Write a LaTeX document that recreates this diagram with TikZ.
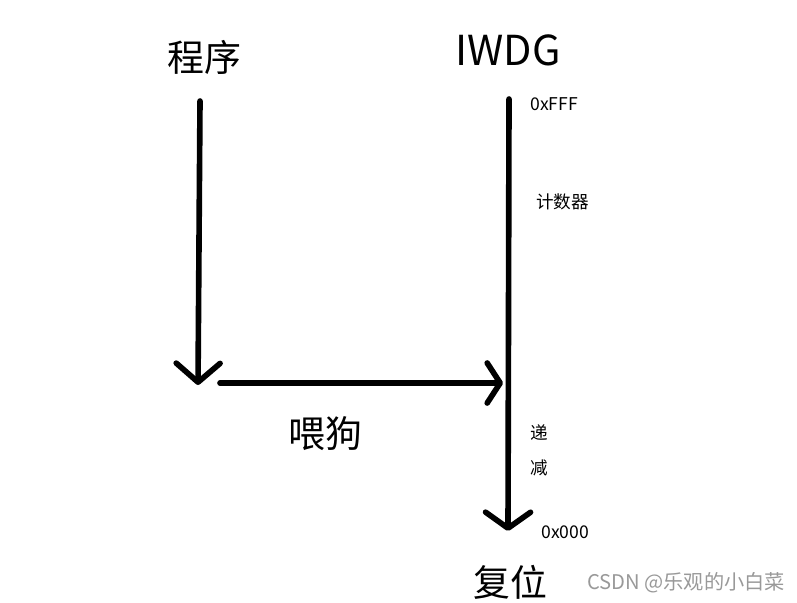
\documentclass[tikz,border=0pt]{standalone}
\usepackage{fontspec}
\setmainfont{Noto Sans CJK SC}
\usetikzlibrary{arrows.meta}

\begin{document}
\begin{tikzpicture}[x=0.02cm, y=-0.02cm,
  every node/.style={inner sep=0pt},
  bigtext/.style={font=\fontsize{21pt}{21pt}\selectfont},
  smalltext/.style={font=\fontsize{10pt}{10pt}\selectfont},
  flow/.style={line width=3.2pt, line cap=round}]
  \useasboundingbox (0,0) rectangle (797,602);

  \node[bigtext] (prog) at (204,57) {程序};
  \node[bigtext, font=\fontsize{23.5pt}{23.5pt}\selectfont] (iwdg) at (508,50) {IWDG};
  \node[bigtext] (feed) at (325,434) {喂狗};
  \node[bigtext] (reset) at (510,582) {复位};
  \node[smalltext, anchor=west] (top) at (530,104) {0xFFF};
  \node[smalltext, anchor=west] (cnt) at (536,202) {计数器};
  \node[smalltext] (dec1) at (539,433) {递};
  \node[smalltext] (dec2) at (539,468) {减};
  \node[smalltext, anchor=west] (bottom) at (541,532) {0x000};
  \node[font=\fontsize{11.5pt}{11.5pt}\selectfont, text=black!40] (mark) at (686,583) {CSDN @乐观的小白菜};

  \coordinate (progtop) at (200,101);
  \coordinate (progend) at (198,385);
  \coordinate (feedstart) at (220,383);
  \coordinate (feedend) at (503,383);
  \coordinate (iwdgtop) at (509,99);
  \coordinate (iwdgend) at (508,531);

  \draw[flow, -{Straight Barb[length=10.8pt, width=25pt, round]}] (progtop) -- (progend);
  \draw[flow, -{Straight Barb[length=7.4pt, width=22.8pt, round]}] (feedstart) -- (feedend);
  \draw[flow, -{Straight Barb[length=9.1pt, width=25.6pt, round]}] (iwdgtop) -- (iwdgend);
\end{tikzpicture}
\end{document}
